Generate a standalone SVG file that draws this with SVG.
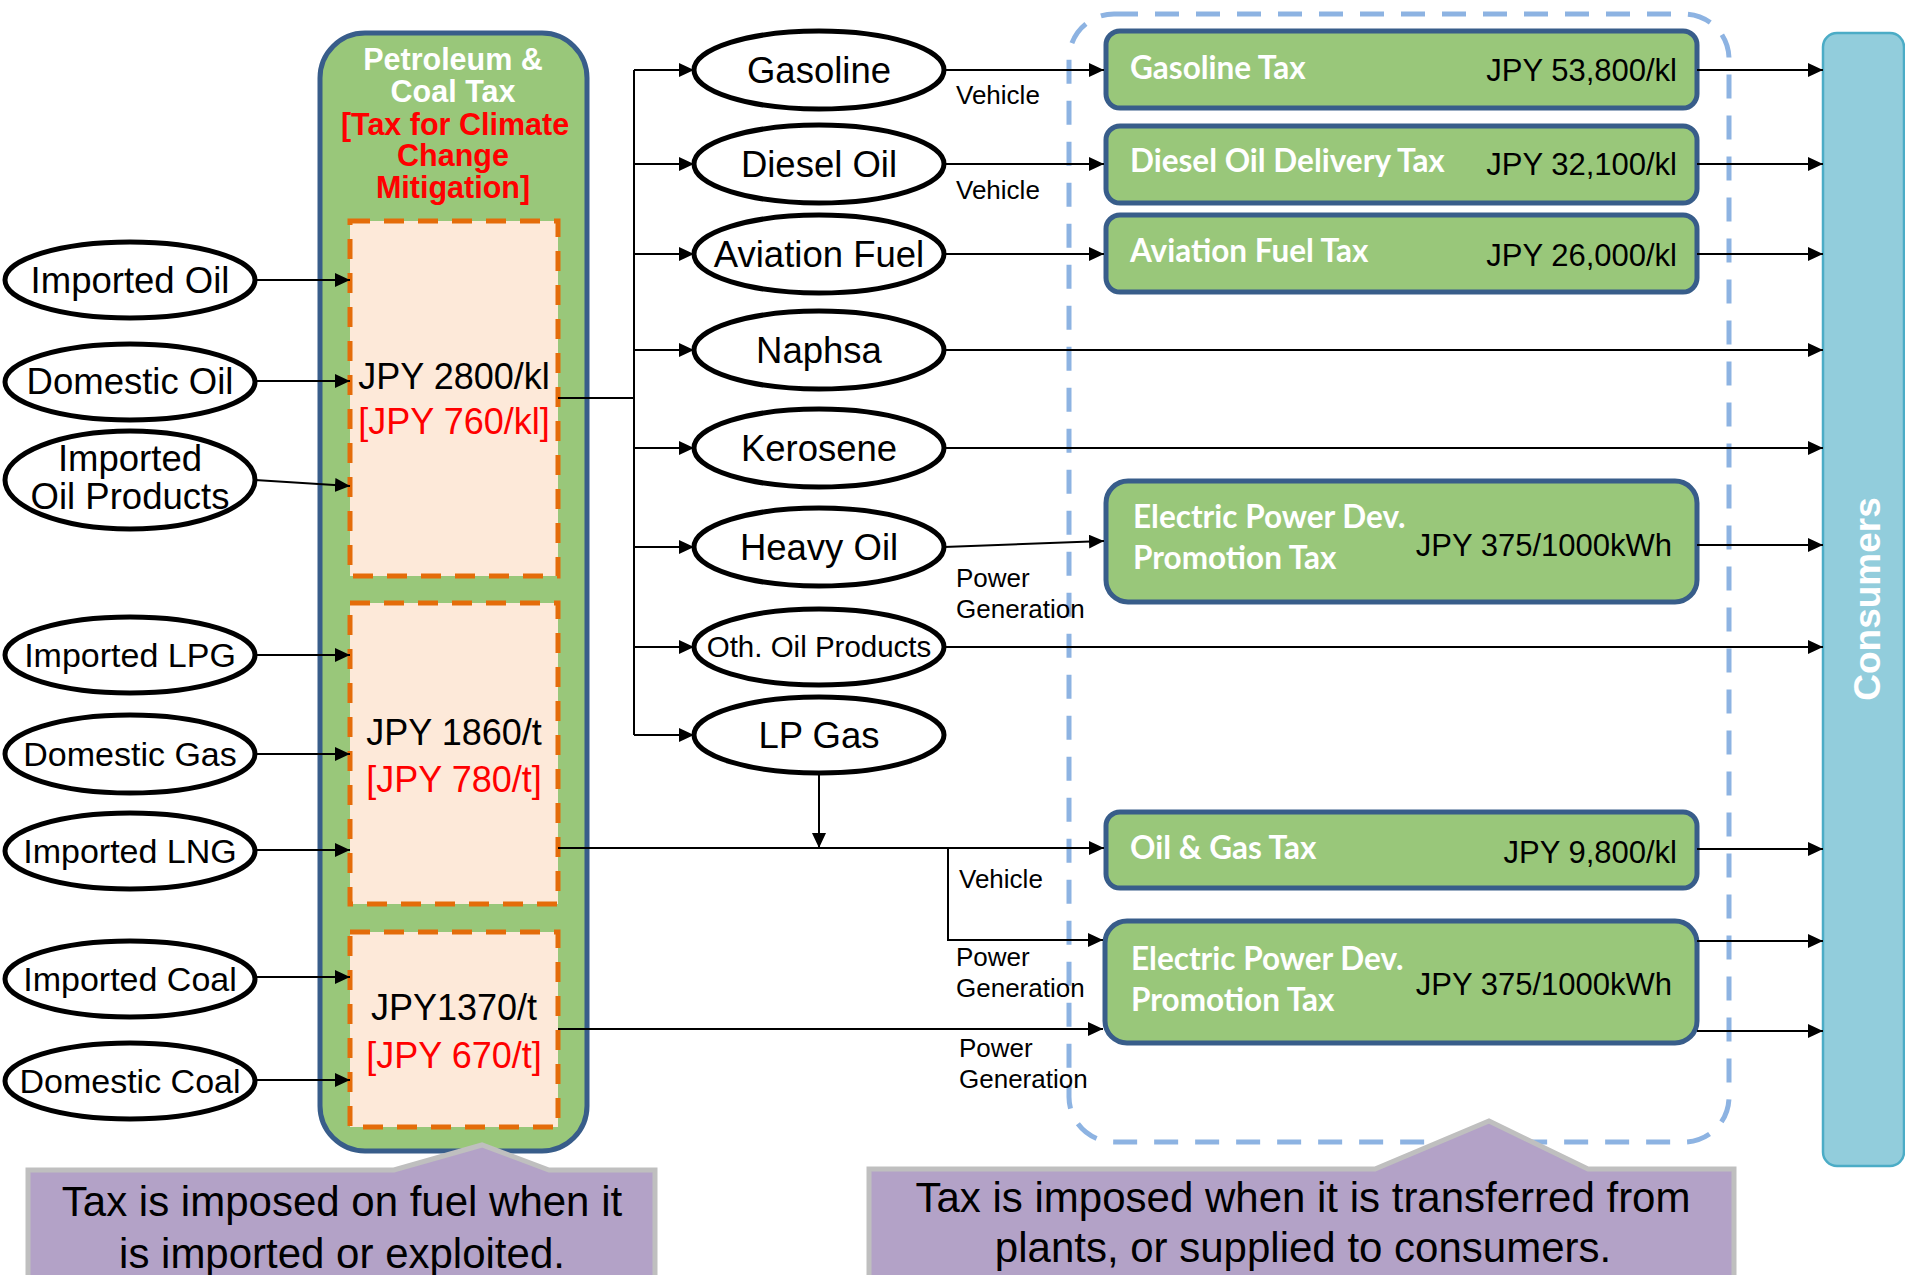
<svg xmlns="http://www.w3.org/2000/svg" width="1905" height="1275" viewBox="0 0 1905 1275">
<defs>
<marker id="arr" markerUnits="userSpaceOnUse" markerWidth="16" markerHeight="16" refX="15" refY="7" orient="auto">
<path d="M0,0 L15,7 L0,14 Z" fill="#000"/>
</marker>
<style>
.ell{fill:#fff;stroke:#000;stroke-width:5}
.et{font-family:"Liberation Sans",Arial,sans-serif;font-size:36.5px;fill:#000;text-anchor:middle}
.gt{font-family:"Liberation Sans",Arial,sans-serif;font-size:34px;fill:#000;text-anchor:middle}
.con{fill:none;stroke:#000;stroke-width:2}
.arw{marker-end:url(#arr)}
.lbl{font-family:"Liberation Sans",Arial,sans-serif;font-size:26px;fill:#000}
.tax{fill:#99c77a;stroke:#385d8a;stroke-width:5}
.tt{font-family:Lato,"Liberation Sans",sans-serif;font-weight:bold;font-size:31.5px;fill:#fff}
.tv{font-family:"Liberation Sans",Arial,sans-serif;font-size:31px;fill:#000;text-anchor:end}
.ob{fill:#fde9d9;stroke:#e46c0a;stroke-width:5;stroke-dasharray:20 14}
.rate{font-family:"Liberation Sans",Arial,sans-serif;font-size:36px;text-anchor:middle}
.hd{font-family:"Liberation Sans",Arial,sans-serif;font-weight:bold;font-size:30.5px;text-anchor:middle}
.call{fill:#b3a2c7;stroke:#bfbfbf;stroke-width:5}
.ct{font-family:"Liberation Sans",Arial,sans-serif;font-size:42px;fill:#000;text-anchor:middle}
</style>
</defs>
<rect width="1905" height="1275" fill="#fff"/>

<!-- dashed region -->
<g id="plant-region">
<rect x="1069" y="14" width="660" height="1128" rx="45" fill="none" stroke="#8db3e2" stroke-width="5" stroke-dasharray="24 17"/>
</g>

<!-- Petroleum & Coal Tax -->
<g id="petroleum-coal-tax">
<rect x="320" y="33" width="267" height="1118" rx="45" fill="#99c77a" stroke="#385d8a" stroke-width="5"/>
<text class="hd" fill="#fff"><tspan x="453" y="70">Petroleum &amp;</tspan><tspan x="453" y="102">Coal Tax</tspan></text>
<text class="hd" fill="#ff0000"><tspan x="455" y="135">[Tax for Climate</tspan><tspan x="453" y="166">Change</tspan><tspan x="453" y="198">Mitigation]</tspan></text>
</g>
<g id="rate-oil">
<rect class="ob" x="350" y="221" width="208" height="355"/>
<text class="rate" x="454" y="389" fill="#000">JPY 2800/kl</text>
<text class="rate" x="454" y="434" fill="#ff0000">[JPY 760/kl]</text>
</g>
<g id="rate-gas">
<rect class="ob" x="350" y="603" width="208" height="301"/>
<text class="rate" x="454" y="745" fill="#000">JPY 1860/t</text>
<text class="rate" x="454" y="792" fill="#ff0000">[JPY 780/t]</text>
</g>
<g id="rate-coal">
<rect class="ob" x="350" y="932" width="208" height="195"/>
<text class="rate" x="454" y="1020" fill="#000">JPY1370/t</text>
<text class="rate" x="454" y="1068" fill="#ff0000">[JPY 670/t]</text>
</g>

<!-- Left sources -->
<g id="imported-oil"><ellipse class="ell" cx="130" cy="280" rx="125" ry="38"/><text class="et" x="130" y="293">Imported Oil</text></g>
<g id="domestic-oil"><ellipse class="ell" cx="130" cy="382" rx="125" ry="38"/><text class="et" x="130" y="394">Domestic Oil</text></g>
<g id="imported-oil-products"><ellipse class="ell" cx="130" cy="480" rx="125" ry="49"/><text class="et"><tspan x="130" y="471">Imported</tspan><tspan x="130" y="509">Oil Products</tspan></text></g>
<g id="imported-lpg"><ellipse class="ell" cx="130" cy="655" rx="125" ry="38"/><text class="gt" x="130" y="667">Imported LPG</text></g>
<g id="domestic-gas"><ellipse class="ell" cx="130" cy="754" rx="125" ry="39"/><text class="gt" x="130" y="766">Domestic Gas</text></g>
<g id="imported-lng"><ellipse class="ell" cx="130" cy="851" rx="125" ry="38"/><text class="gt" x="130" y="863">Imported LNG</text></g>
<g id="imported-coal"><ellipse class="ell" cx="130" cy="979" rx="125" ry="38"/><text class="gt" x="130" y="991">Imported Coal</text></g>
<g id="domestic-coal"><ellipse class="ell" cx="130" cy="1081" rx="125" ry="38"/><text class="gt" x="130" y="1093">Domestic Coal</text></g>

<!-- Products -->
<g id="gasoline"><ellipse class="ell" cx="819" cy="70" rx="125" ry="39"/><text class="et" x="819" y="83">Gasoline</text></g>
<g id="diesel-oil"><ellipse class="ell" cx="819" cy="164" rx="125" ry="39"/><text class="et" x="819" y="177">Diesel Oil</text></g>
<g id="aviation-fuel"><ellipse class="ell" cx="819" cy="254" rx="125" ry="39"/><text class="et" x="819" y="267">Aviation Fuel</text></g>
<g id="naphsa"><ellipse class="ell" cx="819" cy="350" rx="125" ry="39"/><text class="et" x="819" y="363">Naphsa</text></g>
<g id="kerosene"><ellipse class="ell" cx="819" cy="448" rx="125" ry="39"/><text class="et" x="819" y="461">Kerosene</text></g>
<g id="heavy-oil"><ellipse class="ell" cx="819" cy="547" rx="125" ry="39"/><text class="et" x="819" y="560">Heavy Oil</text></g>
<g id="oth-oil-products"><ellipse class="ell" cx="819" cy="647" rx="125" ry="38"/><text class="et" x="819" y="657" style="font-size:29.5px">Oth. Oil Products</text></g>
<g id="lp-gas"><ellipse class="ell" cx="819" cy="735" rx="125" ry="38"/><text class="et" x="819" y="748">LP Gas</text></g>

<!-- Tax boxes -->
<g id="gasoline-tax"><rect class="tax" x="1106" y="31" width="591" height="77" rx="14"/><text class="tt" x="1130" y="79">Gasoline Tax</text><text class="tv" x="1677" y="81">JPY 53,800/kl</text></g>
<g id="diesel-oil-delivery-tax"><rect class="tax" x="1106" y="126" width="591" height="77" rx="14"/><text class="tt" x="1130" y="172">Diesel Oil Delivery Tax</text><text class="tv" x="1677" y="175">JPY 32,100/kl</text></g>
<g id="aviation-fuel-tax"><rect class="tax" x="1106" y="215" width="591" height="77" rx="14"/><text class="tt" x="1130" y="262">Aviation Fuel Tax</text><text class="tv" x="1677" y="266">JPY 26,000/kl</text></g>
<g id="electric-tax-1"><rect class="tax" x="1106" y="481" width="591" height="121" rx="22"/><text class="tt"><tspan x="1133" y="528">Electric Power Dev.</tspan><tspan x="1133" y="569">Promotion Tax</tspan></text><text class="tv" x="1672" y="556">JPY 375/1000kWh</text></g>
<g id="oil-gas-tax"><rect class="tax" x="1106" y="812" width="591" height="76" rx="14"/><text class="tt" x="1130" y="859">Oil &amp; Gas Tax</text><text class="tv" x="1677" y="863">JPY 9,800/kl</text></g>
<g id="electric-tax-2"><rect class="tax" x="1105" y="921" width="592" height="122" rx="22"/><text class="tt"><tspan x="1131" y="970">Electric Power Dev.</tspan><tspan x="1131" y="1011">Promotion Tax</tspan></text><text class="tv" x="1672" y="995">JPY 375/1000kWh</text></g>

<!-- Consumers -->
<g id="consumers">
<rect x="1823" y="33" width="81" height="1133" rx="14" fill="#92cddc" stroke="#4bacc6" stroke-width="2.5"/>
<text x="1880" y="599" transform="rotate(-90 1880 599)" style="font-family:'Liberation Sans',Arial,sans-serif;font-weight:bold;font-size:37px;fill:#fff;text-anchor:middle">Consumers</text>
</g>

<!-- Connectors -->
<g id="connectors">
<path class="con arw" d="M255,280 H350"/>
<path class="con arw" d="M255,381 H350"/>
<path class="con arw" d="M255,480 L350,486"/>
<path class="con arw" d="M255,655 H350"/>
<path class="con arw" d="M255,754 H350"/>
<path class="con arw" d="M255,850 H350"/>
<path class="con arw" d="M255,977 H350"/>
<path class="con arw" d="M255,1080 H350"/>

<path class="con" d="M558,398 H634"/>
<path class="con" d="M634,70 V735"/>
<path class="con arw" d="M634,70 H694"/>
<path class="con arw" d="M634,164 H694"/>
<path class="con arw" d="M634,254 H694"/>
<path class="con arw" d="M634,350 H694"/>
<path class="con arw" d="M634,448 H694"/>
<path class="con arw" d="M634,547 H694"/>
<path class="con arw" d="M634,647 H694"/>
<path class="con arw" d="M634,735 H694"/>

<path class="con arw" d="M944,70 H1104"/>
<path class="con arw" d="M944,164 H1104"/>
<path class="con arw" d="M944,254 H1104"/>
<path class="con arw" d="M944,350 H1823"/>
<path class="con arw" d="M944,448 H1823"/>
<path class="con arw" d="M944,547 L1104,541"/>
<path class="con arw" d="M944,647 H1823"/>
<path class="con arw" d="M819,773 V848"/>
<path class="con arw" d="M558,848 H1104"/>
<path class="con arw" d="M948,848 V940 H1103"/>
<path class="con arw" d="M558,1029 H1103"/>

<path class="con arw" d="M1697,70 H1823"/>
<path class="con arw" d="M1697,164 H1823"/>
<path class="con arw" d="M1697,254 H1823"/>
<path class="con arw" d="M1697,545 H1823"/>
<path class="con arw" d="M1697,849 H1823"/>
<path class="con arw" d="M1697,941 H1823"/>
<path class="con arw" d="M1697,1031 H1823"/>
</g>

<!-- connector labels -->
<g id="labels">
<text class="lbl" x="956" y="104">Vehicle</text>
<text class="lbl" x="956" y="199">Vehicle</text>
<text class="lbl"><tspan x="956" y="587">Power</tspan><tspan x="956" y="618">Generation</tspan></text>
<text class="lbl" x="959" y="888">Vehicle</text>
<text class="lbl"><tspan x="956" y="966">Power</tspan><tspan x="956" y="997">Generation</tspan></text>
<text class="lbl"><tspan x="959" y="1057">Power</tspan><tspan x="959" y="1088">Generation</tspan></text>
</g>

<!-- callouts -->
<g id="callout-left">
<path class="call" d="M28,1170 H394 L482,1145 L549,1170 H655 V1295 H28 Z"/>
<text class="ct"><tspan x="342" y="1216">Tax is imposed on fuel when it</tspan><tspan x="342" y="1268">is imported or exploited.</tspan></text>
</g>
<g id="callout-right">
<path class="call" d="M869,1169 H1375 L1489,1121 L1588,1169 H1734 V1295 H869 Z"/>
<text class="ct"><tspan x="1303" y="1212">Tax is imposed when it is transferred from</tspan><tspan x="1303" y="1262">plants, or supplied to consumers.</tspan></text>
</g>
</svg>
